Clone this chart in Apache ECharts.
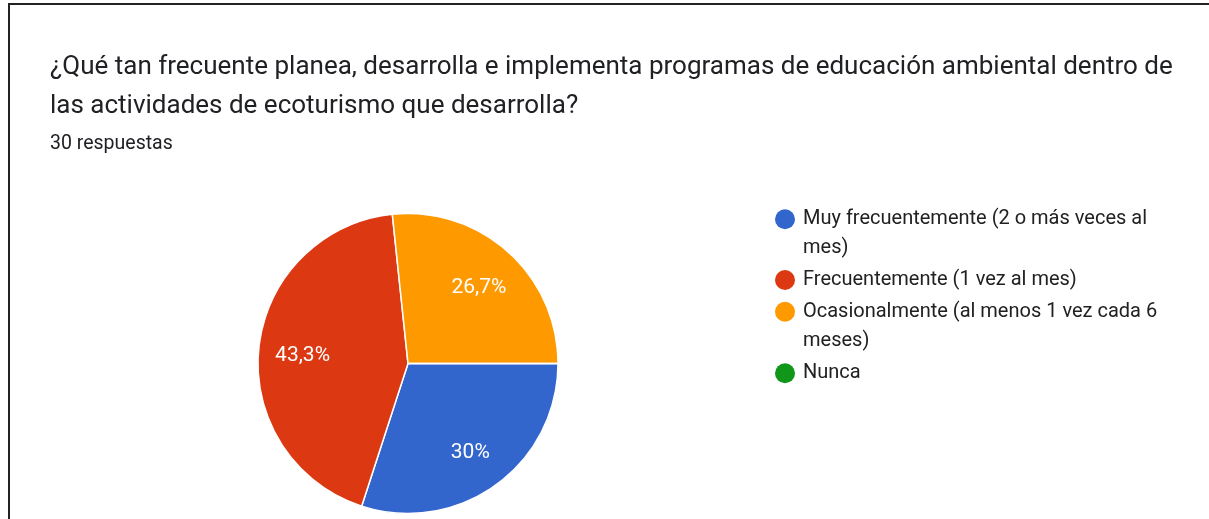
<!DOCTYPE html>
<html>
<head>
<meta charset="utf-8">
<script src="https://cdn.jsdelivr.net/npm/echarts@6/dist/echarts.min.js"></script>
<style>
  html, body { margin: 0; padding: 0; background: #fff; }
  #frame {
    position: absolute; left: 8px; top: 3px; right: 0; bottom: 0;
    border-top: 2px solid #222; border-left: 2px solid #222;
  }
  #chart { position: absolute; left: 0; top: 0; width: 1209px; height: 519px; }
</style>
</head>
<body>
<div id="frame"></div>
<div id="chart"></div>
<script>
// datos de la pregunta
const titleLines = [
    '¿Qué tan frecuente planea, desarrolla e implementa programas de educación ambiental dentro de',
    'las actividades de ecoturismo que desarrolla?'
];
const responsesText = '30 respuestas';
const categories = [
    'Muy frecuentemente (2 o más veces al mes)',
    'Frecuentemente (1 vez al mes)',
    'Ocasionalmente (al menos 1 vez cada 6 meses)',
    'Nunca'
];
const counts = [9, 13, 8, 0];
const colors = ['#3366cc', '#dc3912', '#ff9900', '#109618'];

// posición de cada leyenda (top) y número de líneas del texto
const legendTops = [175.8, 265.5, 268.2, 358.8];
const legendLines = [2, 1, 2, 1];

const FONT = 'Roboto, Arial, sans-serif';
const LINE_H = 29;

function fmtPercent(p) {
    let s = p.toFixed(1);
    if (s.endsWith('.0')) s = s.slice(0, -2);
    return s.replace('.', ',') + '%';
}

function initChart() {
    const chart = echarts.init(document.getElementById('chart'));
    const pieData = categories.map(function (name, i) {
        return { name: name, value: counts[i], itemStyle: { color: colors[i] } };
    });

    // una leyenda por elemento: así el círculo queda alineado con la primera línea
    const legends = categories.map(function (name, i) {
        return {
            data: [name],
            orient: 'vertical',
            left: 775,
            top: legendTops[i],
            padding: 0,
            icon: 'circle',
            itemWidth: 20,
            itemHeight: 20,
            itemStyle: { borderWidth: 0 },
            selectedMode: false,
            formatter: function (n) {
                return legendLines[i] > 1 ? '\n' + n : n;
            },
            textStyle: {
                fontFamily: FONT,
                fontSize: 20,
                color: '#212121',
                lineHeight: LINE_H,
                width: 360,
                overflow: 'break',
                padding: [0, 0, 0, 3]
            }
        };
    });

    chart.setOption({
        animation: false,
        title: {
            text: titleLines.join('\n'),
            subtext: responsesText,
            left: 50,
            top: 48,
            padding: 0,
            itemGap: 6,
            textStyle: {
                fontFamily: FONT,
                fontSize: 26,
                fontWeight: 'normal',
                color: '#202124',
                lineHeight: 39
            },
            subtextStyle: {
                fontFamily: FONT,
                fontSize: 19.5,
                color: '#202124',
                lineHeight: 24
            }
        },
        legend: legends,
        series: [
            {
                type: 'pie',
                center: [408, 363.5],
                radius: 150,
                startAngle: 0,
                clockwise: true,
                data: pieData,
                label: { show: false },
                labelLine: { show: false },
                itemStyle: { borderColor: '#fff', borderWidth: 1.5 },
                emphasis: { disabled: true }
            },
            {
                // serie invisible solo para colocar los porcentajes
                type: 'pie',
                center: [408, 367],
                radius: [56, 150],
                startAngle: 0,
                clockwise: true,
                silent: true,
                legendHoverLink: false,
                data: counts.map(function (v, i) {
                    return { name: categories[i], value: v };
                }),
                itemStyle: { color: 'none', opacity: 0, borderWidth: 0 },
                label: {
                    show: true,
                    position: 'inside',
                    opacity: 1,
                    fontFamily: FONT,
                    fontSize: 21,
                    color: '#fff',
                    formatter: function (p) {
                        return p.value > 0 ? fmtPercent(p.percent) : '';
                    }
                },
                labelLine: { show: false },
                emphasis: { disabled: true }
            }
        ]
    });
}

document.addEventListener('DOMContentLoaded', initChart);
</script>
</body>
</html>
